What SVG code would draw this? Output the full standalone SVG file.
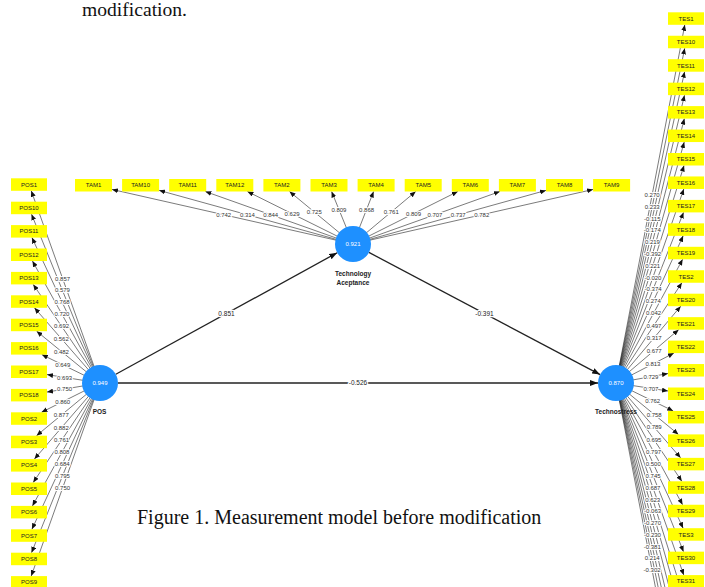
<svg xmlns="http://www.w3.org/2000/svg" width="705" height="587" viewBox="0 0 705 587">
<style>
.bx{fill:#ffff00}
.bt{font-family:"Liberation Sans",Arial,sans-serif;font-size:6px;fill:#222;text-anchor:middle}
.ind{stroke:#222;stroke-width:0.6;fill:none;marker-end:url(#ah)}
.str{stroke:#222;stroke-width:1.3;fill:none;marker-end:url(#ahb)}
.lv{font-family:"Liberation Sans",Arial,sans-serif;font-size:6px;fill:#333;text-anchor:middle;stroke:#fff;stroke-width:2.2px;paint-order:stroke;stroke-linejoin:round}
.sv{font-family:"Liberation Sans",Arial,sans-serif;font-size:6.5px;fill:#222;text-anchor:middle;stroke:#fff;stroke-width:2.4px;paint-order:stroke;stroke-linejoin:round}
.cv{fill:#1e90ff}
.ct{font-family:"Liberation Sans",Arial,sans-serif;font-size:6px;fill:#fff;text-anchor:middle}
.cn{font-family:"Liberation Sans",Arial,sans-serif;font-size:6.5px;font-weight:bold;fill:#222;text-anchor:middle}
.cap{font-family:"Liberation Serif","Times New Roman",serif;fill:#111}
</style>
<defs>
<marker id="ah" markerWidth="6" markerHeight="5" refX="6" refY="2.5" orient="auto" markerUnits="userSpaceOnUse"><path d="M0,0 L6,2.5 L0,5 z" fill="#111"/></marker>
<marker id="ahb" markerWidth="8" markerHeight="6" refX="8" refY="3" orient="auto" markerUnits="userSpaceOnUse"><path d="M0,0 L8,3 L0,6 z" fill="#111"/></marker>
</defs>
<rect width="705" height="587" fill="#fff"/>
<text class="cap" x="82" y="15.5" font-size="19.6">modification.</text>
<text class="cap" x="137" y="524" font-size="20">Figure 1. Measurement model before modification</text>

<g id="connectors">
<!-- POS indicators -->
<line class="ind" x1="100" y1="383" x2="31.24" y2="190.8"/>
<line class="ind" x1="100" y1="383" x2="31.53" y2="214.2"/>
<line class="ind" x1="100" y1="383" x2="31.93" y2="237.6"/>
<line class="ind" x1="100" y1="383" x2="32.46" y2="261.0"/>
<line class="ind" x1="100" y1="383" x2="33.23" y2="284.4"/>
<line class="ind" x1="100" y1="383" x2="34.45" y2="307.8"/>
<line class="ind" x1="100" y1="383" x2="36.64" y2="331.2"/>
<line class="ind" x1="100" y1="383" x2="41.81" y2="354.6"/>
<line class="ind" x1="100" y1="383" x2="47" y2="374.6"/>
<line class="ind" x1="100" y1="383" x2="47" y2="392.1"/>
<line class="ind" x1="100" y1="383" x2="41.48" y2="412.3"/>
<line class="ind" x1="100" y1="383" x2="36.53" y2="435.7"/>
<line class="ind" x1="100" y1="383" x2="34.39" y2="459.1"/>
<line class="ind" x1="100" y1="383" x2="33.2" y2="482.5"/>
<line class="ind" x1="100" y1="383" x2="32.44" y2="505.9"/>
<line class="ind" x1="100" y1="383" x2="31.91" y2="529.3"/>
<line class="ind" x1="100" y1="383" x2="31.52" y2="552.7"/>
<line class="ind" x1="100" y1="383" x2="31.23" y2="576.1"/>
<!-- TAM indicators -->
<line class="ind" x1="353" y1="244" x2="112" y2="189.44"/>
<line class="ind" x1="353" y1="244" x2="159.1" y2="190.37"/>
<line class="ind" x1="353" y1="244" x2="205.3" y2="191.5"/>
<line class="ind" x1="353" y1="244" x2="247.4" y2="191.5"/>
<line class="ind" x1="353" y1="244" x2="289.5" y2="191.5"/>
<line class="ind" x1="353" y1="244" x2="331.6" y2="191.5"/>
<line class="ind" x1="353" y1="244" x2="373.6" y2="191.5"/>
<line class="ind" x1="353" y1="244" x2="415.7" y2="191.5"/>
<line class="ind" x1="353" y1="244" x2="457.8" y2="191.5"/>
<line class="ind" x1="353" y1="244" x2="499.9" y2="191.5"/>
<line class="ind" x1="353" y1="244" x2="546" y2="190.39"/>
<line class="ind" x1="353" y1="244" x2="593.1" y2="189.45"/>
<!-- TES indicators -->
<line class="ind" x1="616" y1="383" x2="684.8" y2="24.8"/>
<line class="ind" x1="616" y1="383" x2="684.72" y2="48.25"/>
<line class="ind" x1="616" y1="383" x2="684.62" y2="71.7"/>
<line class="ind" x1="616" y1="383" x2="684.51" y2="95.15"/>
<line class="ind" x1="616" y1="383" x2="684.38" y2="118.6"/>
<line class="ind" x1="616" y1="383" x2="684.23" y2="142.05"/>
<line class="ind" x1="616" y1="383" x2="684.04" y2="165.5"/>
<line class="ind" x1="616" y1="383" x2="683.82" y2="188.95"/>
<line class="ind" x1="616" y1="383" x2="683.53" y2="212.4"/>
<line class="ind" x1="616" y1="383" x2="683.15" y2="235.85"/>
<line class="ind" x1="616" y1="383" x2="682.63" y2="259.3"/>
<line class="ind" x1="616" y1="383" x2="681.89" y2="282.75"/>
<line class="ind" x1="616" y1="383" x2="680.73" y2="306.2"/>
<line class="ind" x1="616" y1="383" x2="678.66" y2="329.65"/>
<line class="ind" x1="616" y1="383" x2="673.9" y2="353.1"/>
<line class="ind" x1="616" y1="383" x2="668" y2="373.57"/>
<line class="ind" x1="616" y1="383" x2="668" y2="390.99"/>
<line class="ind" x1="616" y1="383" x2="673.2" y2="410.95"/>
<line class="ind" x1="616" y1="383" x2="678.41" y2="434.4"/>
<line class="ind" x1="616" y1="383" x2="680.6" y2="457.85"/>
<line class="ind" x1="616" y1="383" x2="681.82" y2="481.3"/>
<line class="ind" x1="616" y1="383" x2="682.58" y2="504.75"/>
<line class="ind" x1="616" y1="383" x2="683.11" y2="528.2"/>
<line class="ind" x1="616" y1="383" x2="683.5" y2="551.65"/>
<line class="ind" x1="616" y1="383" x2="683.79" y2="575.1"/>
<line class="ind" x1="616" y1="383" x2="684.03" y2="598.55"/>
<line class="ind" x1="616" y1="383" x2="684.22" y2="622.0"/>
<line class="ind" x1="616" y1="383" x2="684.37" y2="645.45"/>
<line class="ind" x1="616" y1="383" x2="684.5" y2="668.9"/>
<line class="ind" x1="616" y1="383" x2="684.61" y2="692.35"/>
<line class="ind" x1="616" y1="383" x2="684.71" y2="715.8"/>
<line class="ind" x1="616" y1="383" x2="684.79" y2="739.25"/>
<!-- structural -->
<line class="str" x1="115.8" y1="374.3" x2="337.2" y2="252.7"/>
<line class="str" x1="368.9" y1="252.4" x2="600.1" y2="374.6"/>
<line class="str" x1="118" y1="383" x2="598" y2="383" stroke-width="1.6" stroke="#444"/>

<!-- POS loadings -->
<text class="lv" x="62.6" y="280.5">0.857</text>
<text class="lv" x="62.4" y="292.4">0.579</text>
<text class="lv" x="62.1" y="304.3">0.768</text>
<text class="lv" x="61.9" y="316.2">0.720</text>
<text class="lv" x="61.6" y="328.3">0.692</text>
<text class="lv" x="61.3" y="340.7">0.562</text>
<text class="lv" x="61.4" y="353.5">0.482</text>
<text class="lv" x="62.8" y="367.0">0.649</text>
<text class="lv" x="64.6" y="379.5">0.693</text>
<text class="lv" x="64.6" y="391.2">0.750</text>
<text class="lv" x="62.7" y="403.8">0.860</text>
<text class="lv" x="61.3" y="417.2">0.877</text>
<text class="lv" x="61.3" y="430.0">0.882</text>
<text class="lv" x="61.6" y="442.3">0.761</text>
<text class="lv" x="61.9" y="454.4">0.808</text>
<text class="lv" x="62.2" y="466.4">0.684</text>
<text class="lv" x="62.4" y="478.3">0.795</text>
<text class="lv" x="62.6" y="490.1">0.750</text>
<!-- TAM loadings -->
<text class="lv" x="223.7" y="216.8">0.742</text>
<text class="lv" x="247.4" y="216.9">0.314</text>
<text class="lv" x="270.7" y="216.8">0.844</text>
<text class="lv" x="292.1" y="215.8">0.629</text>
<text class="lv" x="314.3" y="214.1">0.725</text>
<text class="lv" x="338.9" y="211.5">0.809</text>
<text class="lv" x="366.6" y="211.5">0.868</text>
<text class="lv" x="391.3" y="214.1">0.761</text>
<text class="lv" x="413.5" y="215.8">0.809</text>
<text class="lv" x="434.9" y="216.8">0.707</text>
<text class="lv" x="458.2" y="216.9">0.737</text>
<text class="lv" x="481.8" y="216.8">0.782</text>
<!-- TES loadings -->
<text class="lv" x="652.1" y="197.2">0.270</text>
<text class="lv" x="652.2" y="208.9">0.233</text>
<text class="lv" x="652.2" y="220.7">-0.115</text>
<text class="lv" x="652.3" y="232.4">-0.174</text>
<text class="lv" x="652.4" y="244.2">0.219</text>
<text class="lv" x="652.6" y="256.0">-0.392</text>
<text class="lv" x="652.7" y="267.8">0.221</text>
<text class="lv" x="652.9" y="279.6">-0.020</text>
<text class="lv" x="653.1" y="291.4">-0.374</text>
<text class="lv" x="653.3" y="303.3">0.274</text>
<text class="lv" x="653.6" y="315.3">0.042</text>
<text class="lv" x="653.9" y="327.5">0.497</text>
<text class="lv" x="654.2" y="339.8">0.317</text>
<text class="lv" x="654.2" y="352.6">0.677</text>
<text class="lv" x="652.9" y="366.0">0.813</text>
<text class="lv" x="650.9" y="378.8">0.729</text>
<text class="lv" x="650.9" y="390.5">0.707</text>
<text class="lv" x="652.7" y="403.0">0.762</text>
<text class="lv" x="654.2" y="416.5">0.758</text>
<text class="lv" x="654.2" y="429.3">0.789</text>
<text class="lv" x="653.9" y="441.7">0.695</text>
<text class="lv" x="653.6" y="453.9">0.797</text>
<text class="lv" x="653.3" y="465.9">0.500</text>
<text class="lv" x="653.1" y="477.8">0.745</text>
<text class="lv" x="652.9" y="489.6">0.687</text>
<text class="lv" x="652.7" y="501.5">0.623</text>
<text class="lv" x="652.6" y="513.2">-0.063</text>
<text class="lv" x="652.5" y="525.0">-0.270</text>
<text class="lv" x="652.4" y="536.8">-0.230</text>
<text class="lv" x="652.3" y="548.6">-0.381</text>
<text class="lv" x="652.2" y="560.3">0.214</text>
<text class="lv" x="652.1" y="572.1">-0.302</text>
<!-- structural labels -->
<text class="sv" x="226.5" y="315.8">0.851</text>
<text class="sv" x="484.5" y="315.8">-0.391</text>
<text class="sv" x="358" y="385.3">-0.526</text>
</g>

<g id="POS">
<circle class="cv" cx="100" cy="383" r="18"/>
<text class="ct" x="100" y="385.1">0.949</text>
<text class="cn" x="99.5" y="414">POS</text>
</g>
<g id="TA">
<circle class="cv" cx="353" cy="244" r="18"/>
<text class="ct" x="353" y="246.1">0.921</text>
<text class="cn" x="353" y="275.5">Technology</text>
<text class="cn" x="353" y="284.5">Aceptance</text>
</g>
<g id="TES">
<circle class="cv" cx="616" cy="383" r="18"/>
<text class="ct" x="616" y="385.1">0.870</text>
<text class="cn" x="616" y="413.5">Technostress</text>
</g>

<g id="POS1"><rect class="bx" x="11" y="178.3" width="36" height="12.5"/><text class="bt" x="29" y="186.65">POS1</text></g>
<g id="POS10"><rect class="bx" x="11" y="201.7" width="36" height="12.5"/><text class="bt" x="29" y="210.05">POS10</text></g>
<g id="POS11"><rect class="bx" x="11" y="225.1" width="36" height="12.5"/><text class="bt" x="29" y="233.45">POS11</text></g>
<g id="POS12"><rect class="bx" x="11" y="248.5" width="36" height="12.5"/><text class="bt" x="29" y="256.85">POS12</text></g>
<g id="POS13"><rect class="bx" x="11" y="271.9" width="36" height="12.5"/><text class="bt" x="29" y="280.25">POS13</text></g>
<g id="POS14"><rect class="bx" x="11" y="295.3" width="36" height="12.5"/><text class="bt" x="29" y="303.65">POS14</text></g>
<g id="POS15"><rect class="bx" x="11" y="318.7" width="36" height="12.5"/><text class="bt" x="29" y="327.05">POS15</text></g>
<g id="POS16"><rect class="bx" x="11" y="342.1" width="36" height="12.5"/><text class="bt" x="29" y="350.45">POS16</text></g>
<g id="POS17"><rect class="bx" x="11" y="365.5" width="36" height="12.5"/><text class="bt" x="29" y="373.85">POS17</text></g>
<g id="POS18"><rect class="bx" x="11" y="388.9" width="36" height="12.5"/><text class="bt" x="29" y="397.25">POS18</text></g>
<g id="POS2"><rect class="bx" x="11" y="412.3" width="36" height="12.5"/><text class="bt" x="29" y="420.65">POS2</text></g>
<g id="POS3"><rect class="bx" x="11" y="435.7" width="36" height="12.5"/><text class="bt" x="29" y="444.05">POS3</text></g>
<g id="POS4"><rect class="bx" x="11" y="459.1" width="36" height="12.5"/><text class="bt" x="29" y="467.45">POS4</text></g>
<g id="POS5"><rect class="bx" x="11" y="482.5" width="36" height="12.5"/><text class="bt" x="29" y="490.85">POS5</text></g>
<g id="POS6"><rect class="bx" x="11" y="505.9" width="36" height="12.5"/><text class="bt" x="29" y="514.25">POS6</text></g>
<g id="POS7"><rect class="bx" x="11" y="529.3" width="36" height="12.5"/><text class="bt" x="29" y="537.65">POS7</text></g>
<g id="POS8"><rect class="bx" x="11" y="552.7" width="36" height="12.5"/><text class="bt" x="29" y="561.05">POS8</text></g>
<g id="POS9"><rect class="bx" x="11" y="576.1" width="36" height="12.5"/><text class="bt" x="29" y="584.45">POS9</text></g>

<g id="TAM1"><rect class="bx" x="75" y="179" width="37" height="12.5"/><text class="bt" x="93.5" y="187.35">TAM1</text></g>
<g id="TAM10"><rect class="bx" x="122.1" y="179" width="37" height="12.5"/><text class="bt" x="140.6" y="187.35">TAM10</text></g>
<g id="TAM11"><rect class="bx" x="169.2" y="179" width="37" height="12.5"/><text class="bt" x="187.7" y="187.35">TAM11</text></g>
<g id="TAM12"><rect class="bx" x="216.3" y="179" width="37" height="12.5"/><text class="bt" x="234.8" y="187.35">TAM12</text></g>
<g id="TAM2"><rect class="bx" x="263.4" y="179" width="37" height="12.5"/><text class="bt" x="281.9" y="187.35">TAM2</text></g>
<g id="TAM3"><rect class="bx" x="310.5" y="179" width="37" height="12.5"/><text class="bt" x="329" y="187.35">TAM3</text></g>
<g id="TAM4"><rect class="bx" x="357.6" y="179" width="37" height="12.5"/><text class="bt" x="376.1" y="187.35">TAM4</text></g>
<g id="TAM5"><rect class="bx" x="404.7" y="179" width="37" height="12.5"/><text class="bt" x="423.2" y="187.35">TAM5</text></g>
<g id="TAM6"><rect class="bx" x="451.8" y="179" width="37" height="12.5"/><text class="bt" x="470.3" y="187.35">TAM6</text></g>
<g id="TAM7"><rect class="bx" x="498.9" y="179" width="37" height="12.5"/><text class="bt" x="517.4" y="187.35">TAM7</text></g>
<g id="TAM8"><rect class="bx" x="546" y="179" width="37" height="12.5"/><text class="bt" x="564.5" y="187.35">TAM8</text></g>
<g id="TAM9"><rect class="bx" x="593.1" y="179" width="37" height="12.5"/><text class="bt" x="611.6" y="187.35">TAM9</text></g>

<g id="TES1"><rect class="bx" x="668" y="12.3" width="36" height="12.5"/><text class="bt" x="686" y="20.65">TES1</text></g>
<g id="TES10"><rect class="bx" x="668" y="35.75" width="36" height="12.5"/><text class="bt" x="686" y="44.1">TES10</text></g>
<g id="TES11"><rect class="bx" x="668" y="59.2" width="36" height="12.5"/><text class="bt" x="686" y="67.55">TES11</text></g>
<g id="TES12"><rect class="bx" x="668" y="82.65" width="36" height="12.5"/><text class="bt" x="686" y="91.0">TES12</text></g>
<g id="TES13"><rect class="bx" x="668" y="106.1" width="36" height="12.5"/><text class="bt" x="686" y="114.45">TES13</text></g>
<g id="TES14"><rect class="bx" x="668" y="129.55" width="36" height="12.5"/><text class="bt" x="686" y="137.9">TES14</text></g>
<g id="TES15"><rect class="bx" x="668" y="153" width="36" height="12.5"/><text class="bt" x="686" y="161.35">TES15</text></g>
<g id="TES16"><rect class="bx" x="668" y="176.45" width="36" height="12.5"/><text class="bt" x="686" y="184.8">TES16</text></g>
<g id="TES17"><rect class="bx" x="668" y="199.9" width="36" height="12.5"/><text class="bt" x="686" y="208.25">TES17</text></g>
<g id="TES18"><rect class="bx" x="668" y="223.35" width="36" height="12.5"/><text class="bt" x="686" y="231.7">TES18</text></g>
<g id="TES19"><rect class="bx" x="668" y="246.8" width="36" height="12.5"/><text class="bt" x="686" y="255.15">TES19</text></g>
<g id="TES2"><rect class="bx" x="668" y="270.25" width="36" height="12.5"/><text class="bt" x="686" y="278.6">TES2</text></g>
<g id="TES20"><rect class="bx" x="668" y="293.7" width="36" height="12.5"/><text class="bt" x="686" y="302.05">TES20</text></g>
<g id="TES21"><rect class="bx" x="668" y="317.15" width="36" height="12.5"/><text class="bt" x="686" y="325.5">TES21</text></g>
<g id="TES22"><rect class="bx" x="668" y="340.6" width="36" height="12.5"/><text class="bt" x="686" y="348.95">TES22</text></g>
<g id="TES23"><rect class="bx" x="668" y="364.05" width="36" height="12.5"/><text class="bt" x="686" y="372.4">TES23</text></g>
<g id="TES24"><rect class="bx" x="668" y="387.5" width="36" height="12.5"/><text class="bt" x="686" y="395.85">TES24</text></g>
<g id="TES25"><rect class="bx" x="668" y="410.95" width="36" height="12.5"/><text class="bt" x="686" y="419.3">TES25</text></g>
<g id="TES26"><rect class="bx" x="668" y="434.4" width="36" height="12.5"/><text class="bt" x="686" y="442.75">TES26</text></g>
<g id="TES27"><rect class="bx" x="668" y="457.85" width="36" height="12.5"/><text class="bt" x="686" y="466.2">TES27</text></g>
<g id="TES28"><rect class="bx" x="668" y="481.3" width="36" height="12.5"/><text class="bt" x="686" y="489.65">TES28</text></g>
<g id="TES29"><rect class="bx" x="668" y="504.75" width="36" height="12.5"/><text class="bt" x="686" y="513.1">TES29</text></g>
<g id="TES3"><rect class="bx" x="668" y="528.2" width="36" height="12.5"/><text class="bt" x="686" y="536.55">TES3</text></g>
<g id="TES30"><rect class="bx" x="668" y="551.65" width="36" height="12.5"/><text class="bt" x="686" y="560.0">TES30</text></g>
<g id="TES31"><rect class="bx" x="668" y="575.1" width="36" height="12.5"/><text class="bt" x="686" y="583.45">TES31</text></g>
</svg>
